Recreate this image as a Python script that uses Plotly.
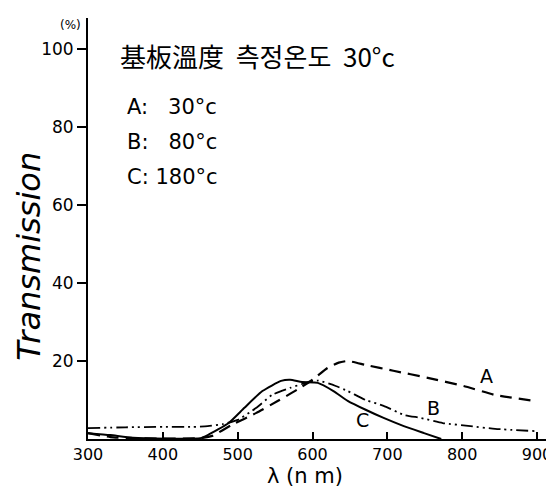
import plotly.graph_objects as go

# Wavelength (nm) / transmission (%)
wl_a = [300, 330, 360, 450, 466, 492, 525, 554, 579, 600, 620, 635, 647, 671, 708, 754, 802, 844, 900]
tr_a = [1.5, 0.5, 0.2, 0.2, 0.8, 3.6, 6.7, 9.8, 12.6, 15.2, 18.2, 19.6, 20.0, 19.0, 17.5, 15.7, 13.6, 11.3, 9.7]

wl_b = [300, 350, 400, 440, 460, 480, 500, 525, 546, 570, 591, 607, 631, 647, 671, 695, 722, 745, 774, 811, 844, 900]
tr_b = [2.8, 3.0, 3.1, 3.1, 3.3, 3.8, 4.9, 8.0, 11.3, 13.1, 14.4, 15.0, 13.6, 12.3, 10.0, 8.5, 6.2, 5.4, 4.1, 3.3, 2.6, 2.0]

wl_c = [300, 330, 360, 450, 460, 488, 509, 533, 558, 570, 586, 607, 628, 647, 671, 695, 722, 749, 772]
tr_c = [1.5, 1.0, 0.3, 0.2, 1.0, 4.1, 8.0, 12.3, 14.9, 15.2, 14.6, 14.4, 12.3, 9.8, 7.5, 5.4, 3.3, 1.5, 0.0]

x_ticks = [300, 400, 500, 600, 700, 800, 900]
y_ticks = [20, 40, 60, 80, 100]

title_text = "基板溫度  측정온도  30°c"
legend_lines = ["A:   30°c", "B:   80°c", "C: 180°c"]
curve_labels = [("A", 832, 16.2), ("B", 762, 8.0), ("C", 667, 4.9)]

FONT = "DejaVu Sans, Noto Sans CJK KR"

W, H = 554, 488
l, r, t, b = 80, 10, 10, 57

fig = go.Figure()
fig.add_trace(go.Scatter(x=wl_a, y=tr_a, mode="lines", line=dict(color="black", width=2.2, dash="12px,7px", shape="spline", smoothing=0.5)))
fig.add_trace(go.Scatter(x=wl_b, y=tr_b, mode="lines", line=dict(color="black", width=1.8, dash="12px,4px,2px,4px,2px,4px", shape="spline", smoothing=0.5)))
fig.add_trace(go.Scatter(x=wl_c, y=tr_c, mode="lines", line=dict(color="black", width=2.0, shape="spline", smoothing=0.5)))

fig.update_layout(
    width=W, height=H,
    margin=dict(l=l, r=r, t=t, b=b),
    paper_bgcolor="white", plot_bgcolor="white",
    showlegend=False,
    font=dict(family=FONT, color="black", size=15),
    xaxis=dict(range=[300, 912], tickvals=x_ticks, ticks="inside", ticklen=7, tickwidth=1.5,
               tickcolor="black", showline=True, linecolor="black", linewidth=2,
               showgrid=False, zeroline=False, tickfont=dict(size=16),
               ticklabeloverflow="allow"),
    yaxis=dict(range=[0, 108], tickvals=y_ticks, ticks="outside", ticklen=9, tickwidth=1.5,
               tickcolor="black", showline=True, linecolor="black", linewidth=2,
               showgrid=False, zeroline=False, tickfont=dict(size=17)),
)

pw, ph = W - l - r, H - t - b
def px(xp):
    return (xp - l) / pw
def py(yp):
    return (H - b - yp) / ph

ann = [
    dict(x=px(110), y=py(48), xref="paper", yref="paper", xanchor="left", yanchor="middle",
         text=title_text, showarrow=False, font=dict(size=26, family="Noto Sans CJK KR")),
    dict(x=px(62), y=py(17), xref="paper", yref="paper", xanchor="center", yanchor="middle",
         text="(%)", showarrow=False, font=dict(size=12)),
    dict(x=px(20), y=py(248), xref="paper", yref="paper", xanchor="center", yanchor="middle",
         text="<i>Transmission</i>", textangle=-90, showarrow=False, font=dict(size=32)),
    dict(x=px(300), y=py(468), xref="paper", yref="paper", xanchor="center", yanchor="middle",
         text="λ (n m)", showarrow=False, font=dict(size=21)),
]
for i, s in enumerate(legend_lines):
    ann.append(dict(x=px(117), y=py(99 + 35 * i), xref="paper", yref="paper", xanchor="left",
                    yanchor="middle", text=s, showarrow=False, font=dict(size=21)))
for lab, x, y in curve_labels:
    ann.append(dict(x=x, y=y, xref="x", yref="y", text=lab, showarrow=False,
                    font=dict(size=19, family=FONT, color="black")))
fig.update_layout(annotations=ann)

fig.write_html("out.html")
